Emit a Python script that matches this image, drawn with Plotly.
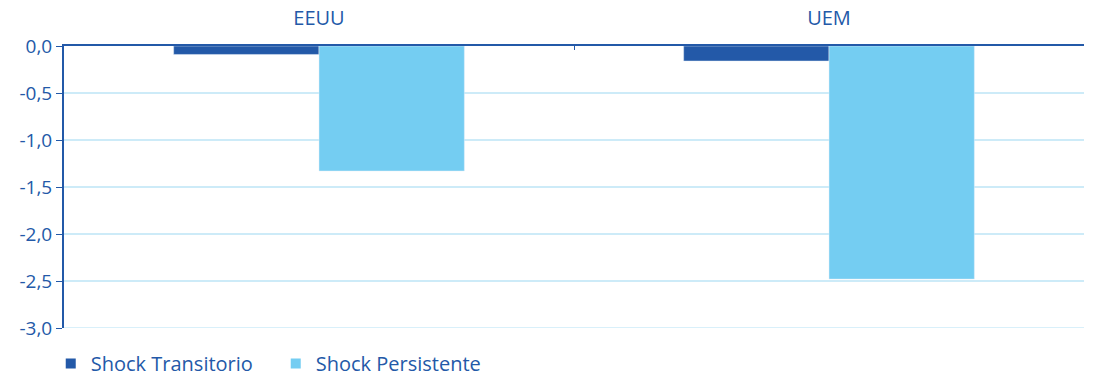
import plotly.graph_objects as go

categories = ["EEUU", "UEM"]
transitorio = [-0.09, -0.16]
persistente = [-1.33, -2.48]
series_names = ["Shock Transitorio", "Shock Persistente"]
y_tick_values = [0.0, -0.5, -1.0, -1.5, -2.0, -2.5, -3.0]
y_tick_labels = ["0,0", "-0,5", "-1,0", "-1,5", "-2,0", "-2,5", "-3,0"]

DARK = "#2359A8"
LIGHT = "#74CDF2"
GRID = "#CDEBF8"
FONT = "Open Sans"
colors = [DARK, LIGHT]

fig = go.Figure()
for name, vals, col in zip(series_names, [transitorio, persistente], colors):
    fig.add_trace(go.Bar(x=categories, y=vals, name=name, marker_color=col,
                         showlegend=False, legendgroup=name))
for name, col in zip(series_names, colors):
    fig.add_trace(go.Scatter(x=[None], y=[None], mode="markers", name=name,
                             legendgroup=name,
                             marker=dict(symbol="square", size=10, color=col)))

fig.add_shape(type="line", xref="paper", yref="y", x0=0, x1=1,
              y0=y_tick_values[-1], y1=y_tick_values[-1],
              line=dict(color=GRID, width=1.5), layer="below")

fig.update_layout(
    width=1102, height=376,
    margin=dict(l=64, r=18, t=46, b=48, autoexpand=False),
    paper_bgcolor="white", plot_bgcolor="white",
    barmode="group", bargap=0.43, bargroupgap=0,
    font=dict(family=FONT, color=DARK, size=19),
    showlegend=True,
    legend=dict(orientation="h", x=-0.013, xanchor="left",
                yref="container", y=0.033, yanchor="middle",
                font=dict(size=20, color=DARK), entrywidth=180, entrywidthmode="pixels",
                itemwidth=30, tracegroupgap=0),
)
fig.update_xaxes(
    side="top", showline=True, linecolor=DARK, linewidth=2,
    ticks="inside", ticklen=4, tickcolor=DARK, tickson="boundaries",
    tickfont=dict(size=20, color=DARK), showgrid=False, mirror=False,
    ticklabelstandoff=11,
)
fig.update_yaxes(
    range=[-3.0, 0], tickmode="array", tickvals=y_tick_values, ticktext=y_tick_labels,
    showline=True, linecolor=DARK, linewidth=2,
    ticks="outside", ticklen=6, tickcolor=DARK,
    showgrid=True, gridcolor=GRID, gridwidth=1.5, zeroline=False,
    tickfont=dict(size=19, color=DARK),
)

fig.write_html("out.html")
